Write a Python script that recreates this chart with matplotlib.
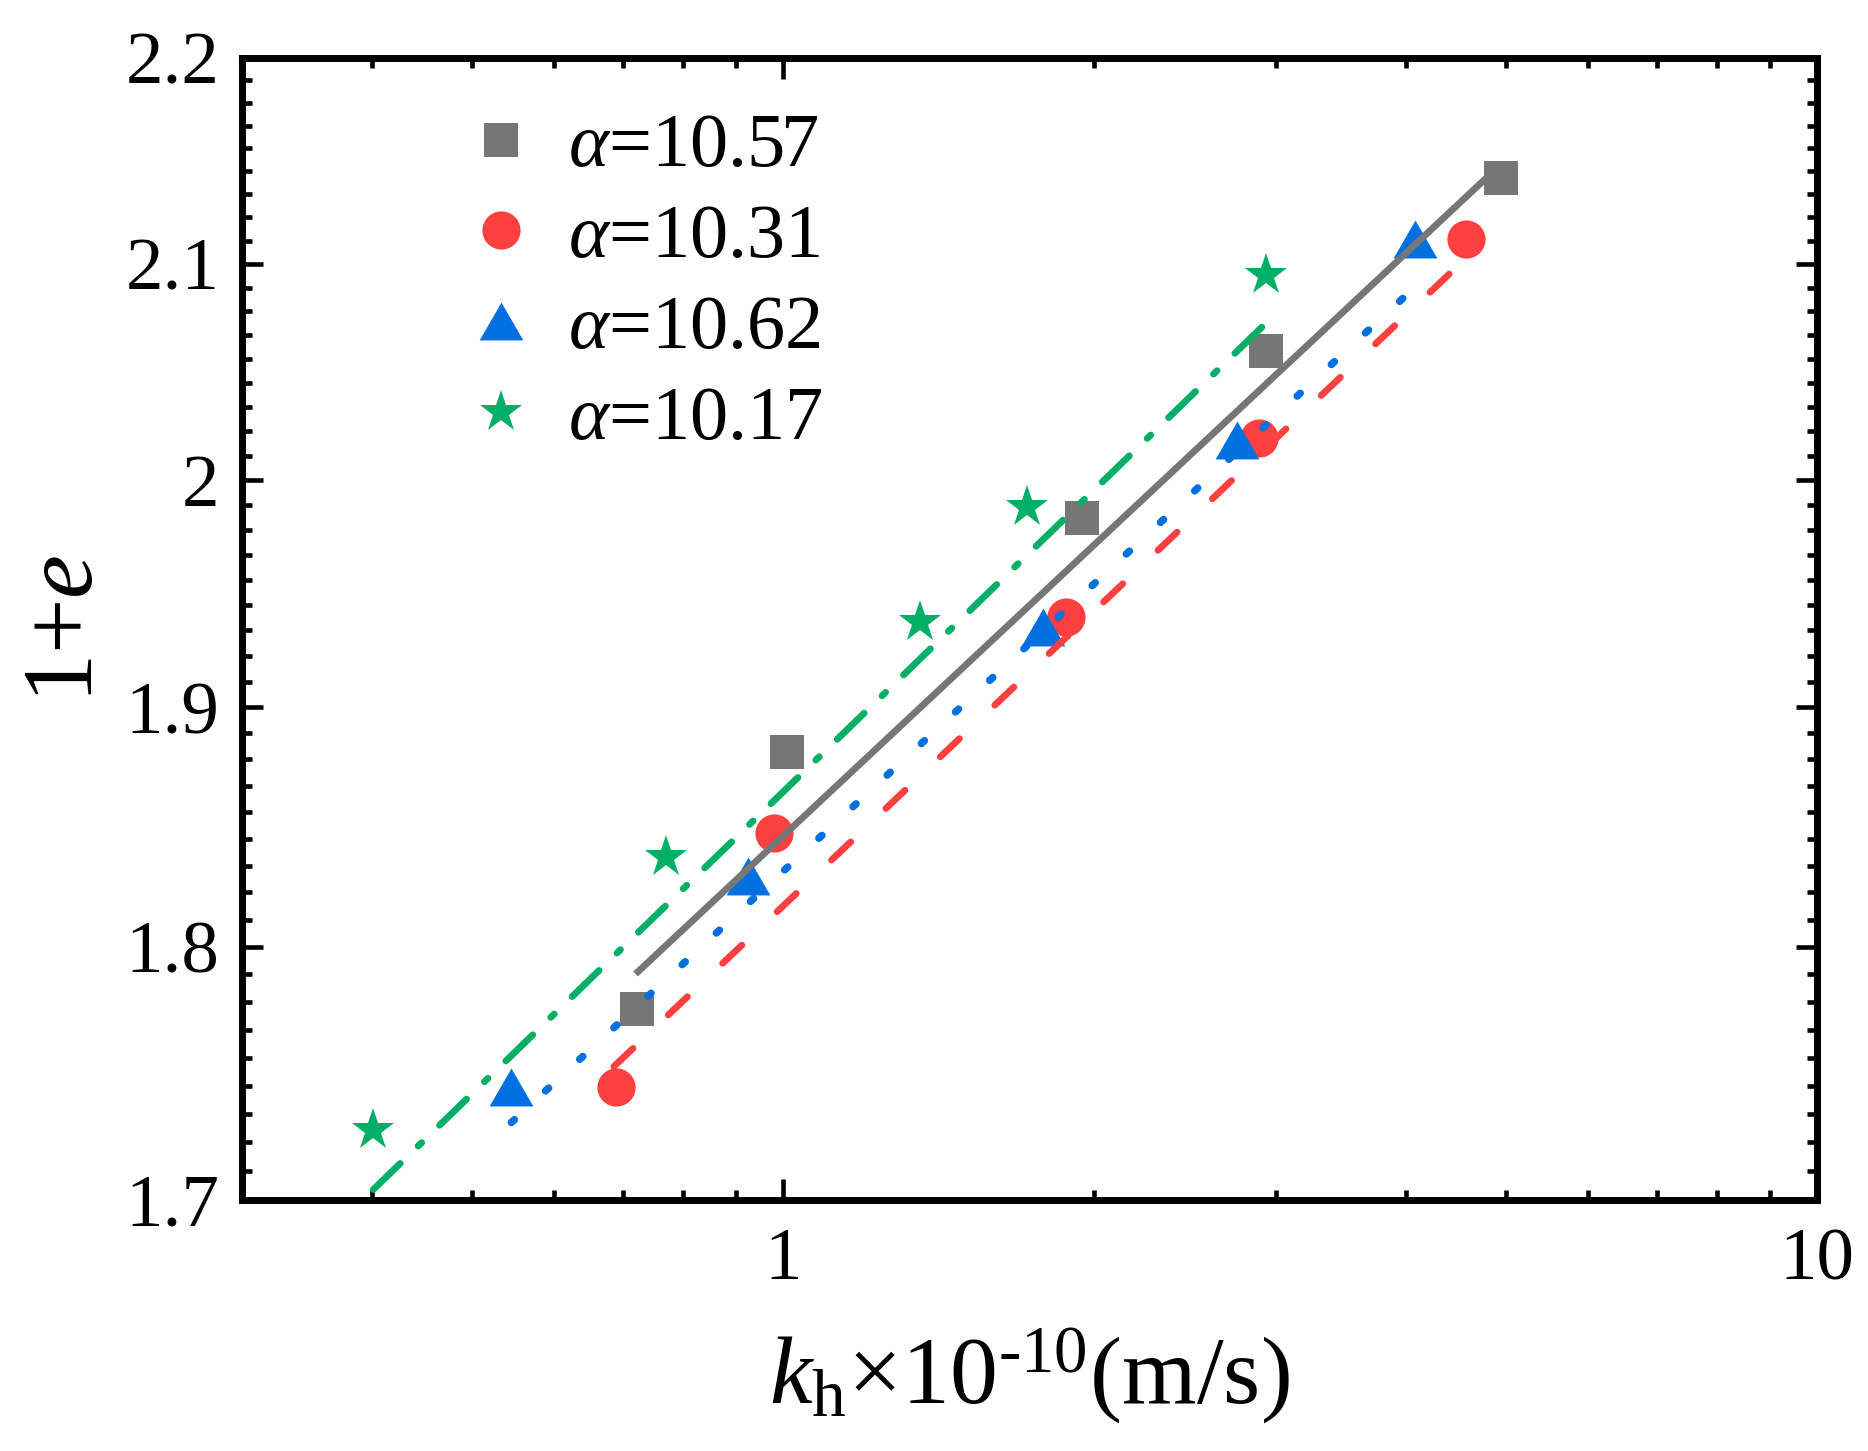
import matplotlib.pyplot as plt
from matplotlib.ticker import FixedLocator, FixedFormatter, NullFormatter
import numpy as np

plt.rcParams['font.family'] = ['Liberation Serif', 'DejaVu Serif']
plt.rcParams['mathtext.fontset'] = 'custom'
plt.rcParams['mathtext.rm'] = 'Liberation Serif'
plt.rcParams['mathtext.it'] = 'Liberation Serif:italic'
plt.rcParams['lines.scale_dashes'] = False

# measured points, k_h (x1e-10 m/s) and 1+e
labels = [r'$\alpha$=10.57', r'$\alpha$=10.31', r'$\alpha$=10.62', r'$\alpha$=10.17']
k_a = [0.723, 1.009, 1.944, 2.934, 4.952]
e_a = [1.775, 1.881, 1.983, 2.059, 2.141]
k_b = [0.690, 0.980, 1.876, 2.886, 4.580]
e_b = [1.744, 1.847, 1.939, 2.019, 2.112]
k_c = [0.545, 0.925, 1.785, 2.745, 4.083]
e_c = [1.744, 1.829, 1.935, 2.018, 2.112]
k_d = [0.4015, 0.770, 1.356, 1.720, 2.934]
e_d = [1.727, 1.837, 1.937, 1.988, 2.095]

# fitted lines, end points
fit_k_a = [0.720, 4.95]
fit_e_a = [1.789, 2.148]
fit_k_b = [0.686, 4.58]
fit_e_b = [1.752, 2.103]
fit_k_c = [0.546, 4.083]
fit_e_c = [1.730, 2.089]
fit_k_d = [0.4015, 2.943]
fit_e_d = [1.704, 2.073]

gray = '#767676'
red = '#FE4040'
blue = '#0070E0'
green = '#00AF66'

tri = [(-1, -0.866), (1, -0.866), (0, 0.866)]

fig = plt.figure(figsize=(18.68, 14.51), dpi=100)
ax = fig.add_axes([0.1298, 0.173, 0.8429, 0.787])

# markers first
ax.plot(k_a, e_a, ls='none', marker='s', ms=24, mew=0, color=gray, label=labels[0], zorder=2)
ax.plot(k_b, e_b, ls='none', marker='o', ms=27.5, mew=0, color=red, label=labels[1], zorder=2)
ax.plot(k_c, e_c, ls='none', marker=tri, ms=31.5, mew=0, color=blue, label=labels[2], zorder=2)
ax.plot(k_d, e_d, ls='none', marker='*', ms=31.5, mew=0, color=green, label=labels[3], zorder=2)

# fit lines on top
lw = 4.9
ax.plot(fit_k_b, fit_e_b, color=red, lw=lw, dashes=(19, 35), dash_capstyle='round', zorder=3)
ax.plot(fit_k_c, fit_e_c, color=blue, lw=lw + 0.5, dashes=(3, 30.5), dash_capstyle='round', zorder=3.1)
ax.plot(fit_k_a, fit_e_a, color=gray, lw=lw, solid_capstyle='butt', zorder=3.2)
ax.plot(fit_k_d, fit_e_d, color=green, lw=lw, dashes=(27, 18, 3.5, 18), dash_capstyle='round', zorder=3.3)

ax.set_xscale('log')
ax.set_yscale('log')
ax.set_xlim(0.3, 10)
ax.set_ylim(1.7, 2.2)

ax.xaxis.set_major_locator(FixedLocator([1, 10]))
ax.xaxis.set_major_formatter(FixedFormatter(['1', '10']))
ax.xaxis.set_minor_locator(FixedLocator([0.3, 0.4, 0.5, 0.6, 0.7, 0.8, 0.9] + list(range(2, 10))))
ax.xaxis.set_minor_formatter(NullFormatter())

yt = [1.7, 1.8, 1.9, 2.0, 2.1, 2.2]
ax.yaxis.set_major_locator(FixedLocator(yt))
ax.yaxis.set_major_formatter(FixedFormatter(['1.7', '1.8', '1.9', '2', '2.1', '2.2']))
ymin = [a + j * 0.1 / 9 for a in yt[:-1] for j in range(1, 9)]
ax.yaxis.set_minor_locator(FixedLocator(ymin))
ax.yaxis.set_minor_formatter(NullFormatter())

ax.tick_params(which='both', direction='in', top=True, right=True, width=3.3)
ax.tick_params(which='major', length=15, labelsize=54)
ax.tick_params(which='minor', length=7.5)
ax.tick_params(axis='x', which='major', pad=20)
ax.tick_params(axis='y', which='major', pad=16.5)
for sp in ax.spines.values():
    sp.set_linewidth(5)

ax.set_xlabel(r'$k_{\mathrm{h}}$×10$^{\text{-10}}$(m/s)', fontsize=69, labelpad=23)
ax.set_ylabel(r'1+$e$', fontsize=71)
ax.yaxis.set_label_coords(-0.082, 0.5)

ax.legend(loc='upper left', bbox_to_anchor=(0.14, 0.952), frameon=False, fontsize=55,
          handlelength=1.0, handletextpad=0.37, labelspacing=0.28, borderpad=0,
          borderaxespad=0)

fig.savefig('out.png', dpi=100)
